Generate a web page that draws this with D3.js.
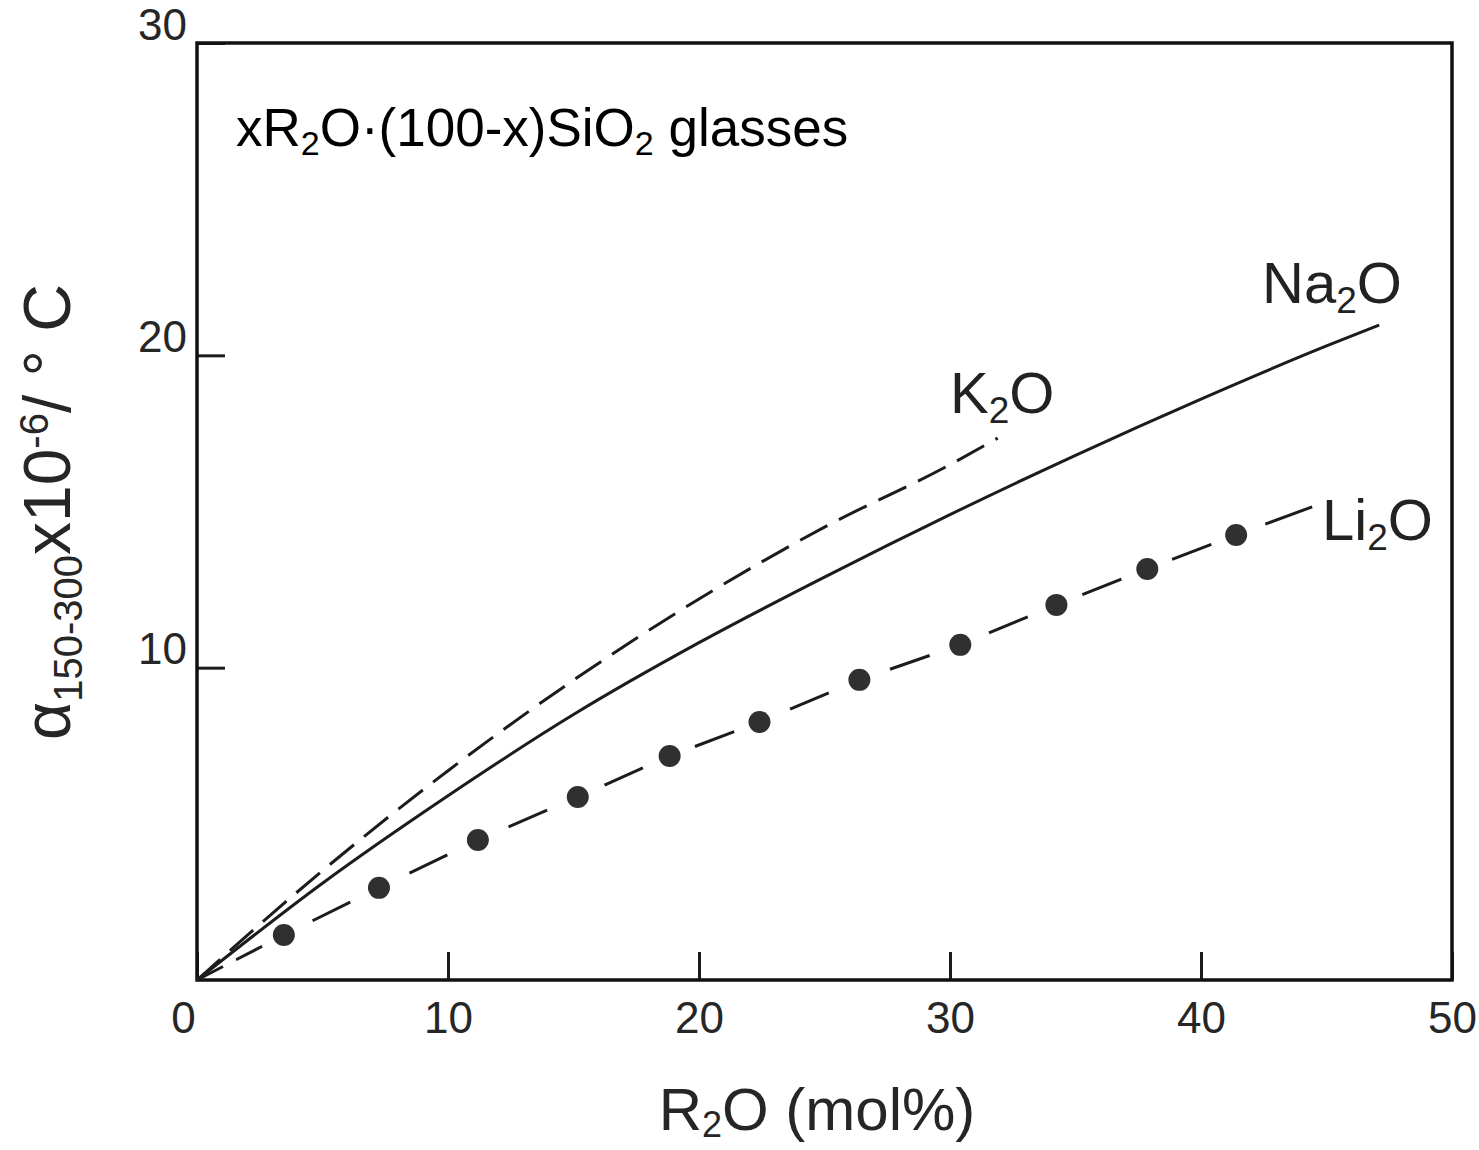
<!DOCTYPE html>
<html>
<head>
<meta charset="utf-8">
<script src="https://cdn.jsdelivr.net/npm/d3@7"></script>
<style>
  html, body { margin: 0; padding: 0; background: #fff; }
  svg { display: block; font-family: "Liberation Sans", Arial, sans-serif; }
</style>
</head>
<body>
<div id="chart"></div>
<script>
// R2O content (mol%) vs thermal expansion
const na2oX = [0, 5, 10, 15, 20, 25, 30, 35, 40, 45, 47.1];
const na2oY = [0, 3.1, 5.9, 8.5, 10.8, 12.9, 14.9, 16.8, 18.6, 20.3, 20.97];

const k2oX = [0, 5, 10, 15, 20, 25, 30, 31.9];
const k2oY = [0, 3.5, 6.7, 9.6, 12.2, 14.5, 16.5, 17.35];

const li2oX = [3.46, 7.25, 11.19, 15.17, 18.83, 22.41, 26.39, 30.41, 34.24, 37.86, 41.40];
const li2oY = [1.44, 2.95, 4.48, 5.86, 7.17, 8.26, 9.61, 10.73, 12.01, 13.16, 14.25];
const li2oEnd = [44.43, 15.15];

const xTicks = [0, 10, 20, 30, 40, 50];
const yTicks = [10, 20, 30];

(function() {
  const width = 1479, height = 1150;
  const margin = {left: 197, top: 43, right: 27, bottom: 170};

  const x = d3.scaleLinear().domain([0, 50]).range([margin.left, width - margin.right]);
  const y = d3.scaleLinear().domain([0, 30]).range([height - margin.bottom, margin.top]);

  const svg = d3.select("#chart").append("svg")
    .attr("width", width)
    .attr("height", height);

  const ink = "#1c1c1c";

  // x axis, ticks point inward
  const gx = svg.append("g")
    .attr("transform", `translate(0,${y(0)})`)
    .call(d3.axisBottom(x).tickValues(xTicks).tickSize(-28).tickPadding(22));
  gx.select(".domain").remove();
  gx.selectAll(".tick line").attr("stroke", ink).attr("stroke-width", 3);
  gx.selectAll(".tick text")
    .attr("font-size", 44)
    .attr("fill", "#262626")
    .attr("font-family", "Liberation Sans, Arial, sans-serif")
    .attr("dx", d => d === 0 ? -14 : 0);

  // y axis
  const gy = svg.append("g")
    .attr("transform", `translate(${x(0)},0)`)
    .call(d3.axisLeft(y).tickValues(yTicks).tickSize(-28).tickPadding(10));
  gy.select(".domain").remove();
  gy.selectAll(".tick line").attr("stroke", ink).attr("stroke-width", 3);
  gy.selectAll(".tick text")
    .attr("font-size", 44)
    .attr("fill", "#262626")
    .attr("font-family", "Liberation Sans, Arial, sans-serif")
    .attr("dy", -4);

  // frame
  svg.append("rect")
    .attr("x", x(0)).attr("y", y(30))
    .attr("width", x(50) - x(0)).attr("height", y(0) - y(30))
    .attr("fill", "none").attr("stroke", "#111").attr("stroke-width", 3.5);

  const line = d3.line()
    .x(d => x(d[0])).y(d => y(d[1]))
    .curve(d3.curveMonotoneX);

  // Na2O solid
  svg.append("path")
    .datum(na2oX.map((v, i) => [v, na2oY[i]]))
    .attr("d", line)
    .attr("fill", "none").attr("stroke", ink).attr("stroke-width", 3);

  // K2O dashed
  svg.append("path")
    .datum(k2oX.map((v, i) => [v, k2oY[i]]))
    .attr("d", line)
    .attr("fill", "none").attr("stroke", ink).attr("stroke-width", 3)
    .attr("stroke-dasharray", "31,13");

  // Li2O: one dash between each pair of data points
  const liPts = [[0, 0]].concat(li2oX.map((v, i) => [v, li2oY[i]]), [li2oEnd]);
  const segs = d3.pairs(liPts);
  svg.append("g")
    .selectAll("line")
    .data(segs)
    .join("line")
    .attr("x1", d => x(d[0][0])).attr("y1", d => y(d[0][1]))
    .attr("x2", d => x(d[1][0])).attr("y2", d => y(d[1][1]))
    .attr("stroke", ink).attr("stroke-width", 3)
    .attr("stroke-dasharray", (d, i) => {
      const L = Math.hypot(x(d[1][0]) - x(d[0][0]), y(d[1][1]) - y(d[0][1]));
      if (i === segs.length - 1) return `0,${L - 50},50,${L}`;
      if (i === 0) return `${L * 0.3},${L * 0.15},${L * 0.3},${L}`;
      const dash = 42;
      return `0,${(L - dash) / 2},${dash},${L}`;
    });

  svg.append("g")
    .selectAll("circle")
    .data(li2oX.map((v, i) => [v, li2oY[i]]))
    .join("circle")
    .attr("cx", d => x(d[0])).attr("cy", d => y(d[1]))
    .attr("r", 11)
    .attr("fill", "#303030");

  // series labels with subscripts
  function chemLabel(parts, px, py) {
    const t = svg.append("text")
      .attr("x", px).attr("y", py)
      .attr("font-size", 58)
      .attr("fill", "#222");
    parts.forEach(p => {
      const s = t.append("tspan").text(p.t);
      if (p.sub) s.attr("font-size", 37).attr("baseline-shift", "-28%");
    });
    return t;
  }
  chemLabel([{t: "Na"}, {t: "2", sub: true}, {t: "O"}], 1262, 303);
  chemLabel([{t: "K"}, {t: "2", sub: true}, {t: "O"}], 950, 413);
  chemLabel([{t: "Li"}, {t: "2", sub: true}, {t: "O"}], 1322, 540);

  // title inside plot
  const title = svg.append("text")
    .attr("x", 236).attr("y", 146)
    .attr("font-size", 53)
    .attr("fill", "#000");
  [["xR"], ["2", 1], ["O·(100-x)SiO"], ["2", 1], [" glasses"]].forEach(p => {
    const s = title.append("tspan").text(p[0]);
    if (p[1]) s.attr("font-size", 34).attr("baseline-shift", "-25%");
  });

  // x axis title
  const xt = svg.append("text")
    .attr("x", 817).attr("y", 1130)
    .attr("text-anchor", "middle")
    .attr("font-size", 60)
    .attr("fill", "#262626");
  xt.append("tspan").text("R");
  xt.append("tspan").text("2").attr("font-size", 36).attr("baseline-shift", "-20%");
  xt.append("tspan").text("O (mol%)");

  // y axis title (rotated)
  const yt = svg.append("text")
    .attr("transform", "translate(70,512) rotate(-90)")
    .attr("text-anchor", "middle")
    .attr("font-size", 66)
    .attr("fill", "#262626");
  yt.append("tspan").text("α");
  yt.append("tspan").text("150-300").attr("font-size", 40).attr("baseline-shift", "-30%");
  yt.append("tspan").text("x10");
  yt.append("tspan").text("-6").attr("font-size", 40).attr("baseline-shift", "55%");
  yt.append("tspan").text("/ ° C");
})();
</script>
</body>
</html>
